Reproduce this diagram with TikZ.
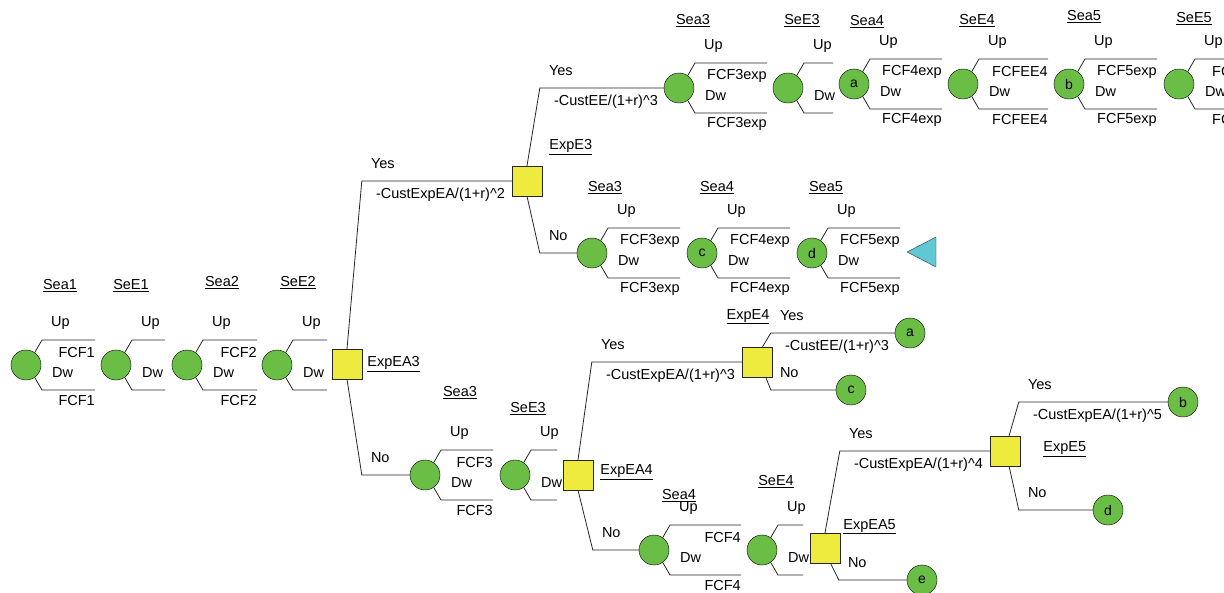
\documentclass[tikz,border=0pt]{standalone}
\usepackage{fontspec}
\setmainfont{Liberation Sans}
\usetikzlibrary{positioning}
\definecolor{chancegreen}{RGB}{106,189,69}
\definecolor{decyellow}{RGB}{238,234,62}
\definecolor{endcyan}{RGB}{95,200,210}
\begin{document}
\begin{tikzpicture}[x=1pt, y=-1pt,
    lbl/.style={font=\fontsize{14.5}{17}\selectfont, inner sep=0pt},
    chance/.style={circle, draw=black, fill=chancegreen, minimum size=30pt, inner sep=0pt, font=\fontsize{14}{16}\selectfont},
    decision/.style={rectangle, draw=black!85, fill=decyellow, minimum size=30pt, inner sep=0pt},
    branch/.style={draw=black!85, line width=0.8pt}]
        \useasboundingbox (0,0) rectangle (1224,592);
        \clip (0,0) rectangle (1224,592);
        % chance nodes with Up / Dw branches
        % name / x / y / end of branch / letter / value
        \foreach \n/\x/\y/\e/\lt/\v in {
            sea1/26/365/95/{}/FCF1, see1/116/365/165/{}/{},
            sea2/187/365/257/{}/FCF2, see2/277/365/327/{}/{},
            sea3l/425/475/493/{}/FCF3, see3l/515/475/557/{}/{},
            sea4l/654/550/741/{}/FCF4, see4l/762/550/803/{}/{},
            sea3m/592/253/680/{}/FCF3exp, sea4m/702/253/790/c/FCF4exp,
            sea5m/812/253/900/d/FCF5exp,
            sea3t/679/88/767/{}/FCF3exp, see3t/788/88/833/{}/{},
            sea4t/854/84/942/a/FCF4exp, see4t/963/84/1048/{}/FCFEE4,
            sea5t/1069/84/1157/b/FCF5exp, see5t/1179/84/1268/{}/FCFEE5}
        {
            \node[chance] (\n) at (\x,\y) {\lt};
            \coordinate (\n-up) at (\e,\y-25);
            \coordinate (\n-dw) at (\e,\y+25);
            \draw[branch] (\n.55) -- ([shift={(16,-25)}]\n.center) -- (\n-up);
            \draw[branch] (\n.-55) -- ([shift={(16,25)}]\n.center) -- (\n-dw);
            \node[lbl, anchor=west] at ([shift={(25,-42)}]\n.center) {Up};
            \node[lbl, anchor=west] at ([shift={(26,8)}]\n.center) {Dw};
            \node[lbl, anchor=east] at ([yshift=-13pt]\n-up) {\v};
            \node[lbl, anchor=east] at ([yshift=-11pt]\n-dw) {\v};
        }
        % stage headers
        \foreach \t/\x/\y in {Sea1/60/286, SeE1/131/286, Sea2/222/283, SeE2/298/283,
            Sea3/460/393, SeE3/528/409, Sea4/679/496, SeE4/776/482,
            Sea3/605/188, Sea4/717/188, Sea5/826/188,
            Sea3/693/21, SeE3/802/21, Sea4/867/22, SeE4/977/21, Sea5/1084/17, SeE5/1194/19}
            \node[lbl] (h-\x) at (\x,\y) {\underline{\t}};
        % decision nodes
        \node[decision] (ExpEA3) at (347,364) {};
        \node[decision] (ExpE3) at (527,181) {};
        \node[decision] (ExpEA4) at (578,475) {};
        \node[decision] (ExpE4) at (757,362) {};
        \node[decision] (ExpEA5) at (825,548) {};
        \node[decision] (ExpE5) at (1005,451) {};
        \node[lbl, anchor=west] (l-ExpEA3) at ([xshift=5pt]ExpEA3.east) {\underline{ExpEA3}};
        \node[lbl, anchor=west] (l-ExpE3) at ([shift={(7,-19)}]ExpE3.north east) {\underline{ExpE3}};
        \node[lbl, anchor=west] (l-ExpEA4) at ([shift={(7,-3)}]ExpEA4.east) {\underline{ExpEA4}};
        \node[lbl] (l-ExpE4) at ([shift={(-9,-30)}]ExpE4.north) {\underline{ExpE4}};
        \node[lbl, anchor=west] (l-ExpEA5) at ([shift={(3,-6)}]ExpEA5.north east) {\underline{ExpEA5}};
        \node[lbl, anchor=west] (l-ExpE5) at ([shift={(23,-2)}]ExpE5.east) {\underline{ExpE5}};
        % end nodes
        \node[chance] (ta) at (910,333) {a};
        \node[chance] (tc) at (851,390) {c};
        \node[chance] (te) at (922,580) {e};
        \node[chance] (tb) at (1183,402) {b};
        \node[chance] (td) at (1108,510) {d};
        \filldraw[fill=endcyan, draw=black!80] (907,252) -- (936,237) -- (936,267) -- cycle;
        % decision branches: from / to / corner / answer / cost
        \foreach \a/\b/\s/\t/\c in {
            ExpEA3.north/ExpE3/150/Yes/{-CustExpEA/(1+r)\textasciicircum2},
            ExpEA3.south/sea3l/48/No/{},
            ExpE3.north/sea3t/124/Yes/{-CustEE/(1+r)\textasciicircum3},
            ExpE3.south/sea3m/37/No/{},
            ExpEA4.north/ExpE4/150/Yes/{-CustExpEA/(1+r)\textasciicircum3},
            ExpEA4.south/sea4l/46/No/{},
            ExpE4.70/ta/124/Yes/{-CustEE/(1+r)\textasciicircum3},
            ExpE4.-60/tc/65/No/{},
            ExpEA5.north/ExpE5/150/Yes/{-CustExpEA/(1+r)\textasciicircum4},
            ExpEA5.-70/te/68/No/{},
            ExpE5.75/tb/149/Yes/{-CustExpEA/(1+r)\textasciicircum5},
            ExpE5.-75/td/74/No/{}}
        {
            \draw[branch] (\a) -- ([shift={(-\s,0)}]\b.west) coordinate (k) -- (\b.west);
            \node[lbl, anchor=west] at ([shift={(9,-17)}]k) {\t};
            \node[lbl, anchor=west] at ([shift={(14,14)}]k) {\c};
        }
\end{tikzpicture}
\end{document}
